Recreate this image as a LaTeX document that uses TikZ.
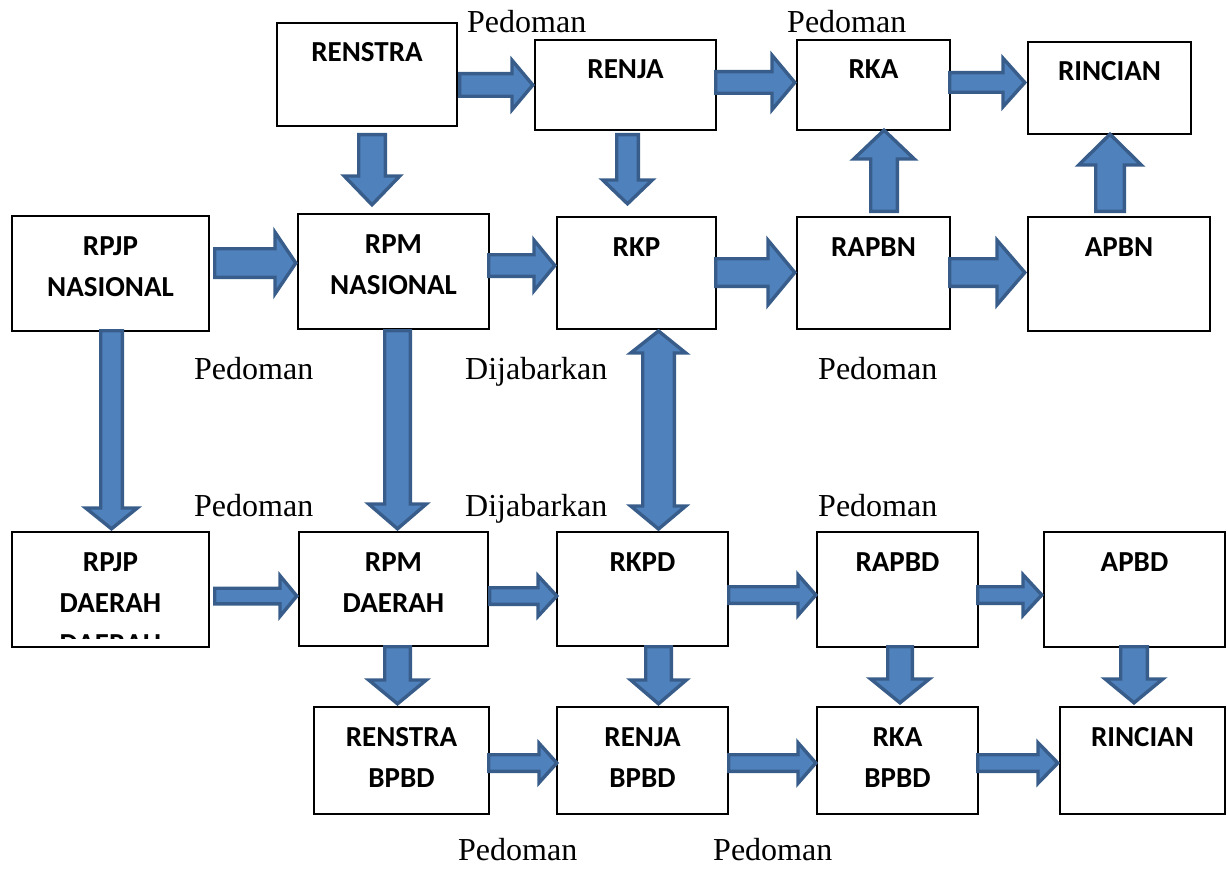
\documentclass[tikz,border=0pt]{standalone}
\usepackage{fontspec}
\setmainfont{Liberation Serif}
\newfontfamily\boxfont{Carlito}
\definecolor{arrfill}{HTML}{4F81BD}
\definecolor{arrline}{HTML}{385D8A}
\tikzset{
 box/.style={draw=black, line width=1.3pt, fill=white, inner sep=0pt, outer sep=0pt, anchor=north west},
 boxtxt/.style={anchor=base, inner sep=0pt, font=\boxfont\bfseries\fontsize{29}{41}\selectfont},
 lab/.style={anchor=base west, inner sep=0pt, font=\fontsize{32}{38}\selectfont},
 barrow/.style={fill=arrfill, draw=arrline, line width=3.4pt, line join=miter},
}
\newcommand\boxlines[1]{\vtop{\baselineskip=41pt\halign{\hfil##\hfil\cr#1\crcr}}}
% name, x1, y1, x2, y2, text
\newcommand\bx[6]{%
 \node[box, minimum width={#4pt-#2pt}, minimum height={#5pt-#3pt}] (#1) at (#2,#3) {};
 \node[boxtxt] (#1-t) at ({(#2+#4)/2},{#3+39}) {\boxlines{#6}};
}
% yc, xs, xbase, xtip, shaft half, head half
\newcommand\harr[6]{%
 \draw[barrow] ({#2+1.7*sign(#4-#2)},{#1-#5+1.7}) -- (#3,{#1-#5+1.7}) -- (#3,{#1-#6+1.7})
   -- ({#4-2.2*sign(#4-#2)},#1) -- (#3,{#1+#6-1.7}) -- (#3,{#1+#5-1.7}) -- ({#2+1.7*sign(#4-#2)},{#1+#5-1.7}) -- cycle;}
% xc, ys, ybase, ytip, shaft half, head half
\newcommand\varr[6]{%
 \draw[barrow] ({#1-#5+1.7},{#2+1.7*sign(#4-#2)}) -- ({#1-#5+1.7},#3) -- ({#1-#6+1.7},#3)
   -- (#1,{#4-2.2*sign(#4-#2)}) -- ({#1+#6-1.7},#3) -- ({#1+#5-1.7},#3) -- ({#1+#5-1.7},{#2+1.7*sign(#4-#2)}) -- cycle;}
\begin{document}
\begin{tikzpicture}[x=1pt, y=-1pt]
\useasboundingbox (0,0) rectangle (1228,869);
% boxes
\bx{renstra}{277}{23}{457}{126}{RENSTRA}
\bx{renja}{535}{40}{716}{130}{RENJA}
\bx{rka}{797}{40}{950}{130}{RKA}
\bx{rincian}{1028}{42}{1191}{134}{RINCIAN}
\bx{rpjpn}{12}{216}{209}{331}{RPJP\cr NASIONAL}
\bx{rpmn}{298}{214}{489}{329}{RPM\cr NASIONAL}
\bx{rkp}{557}{217}{716}{329}{RKP}
\bx{rapbn}{797}{217}{950}{329}{RAPBN}
\bx{apbn}{1028}{217}{1210}{331}{APBN}
\bx{rpjpd}{12}{532}{209}{647}{RPJP\cr DAERAH}
\begin{scope}
 \clip (12,532) rectangle (209,638.5);
 \node[boxtxt] (rpjpd-t3) at (110.5,653) {DAERAH};
\end{scope}
\bx{rpmd}{299}{532}{488}{646}{RPM\cr DAERAH}
\bx{rkpd}{557}{532}{728}{646}{RKPD}
\bx{rapbd}{817}{532}{978}{647}{RAPBD}
\bx{apbd}{1044}{532}{1225}{647}{APBD}
\bx{renstrab}{314}{707}{489}{814}{RENSTRA\cr BPBD}
\bx{renjab}{557}{707}{728}{814}{RENJA\cr BPBD}
\bx{rkab}{817}{707}{978}{814}{RKA\cr BPBD}
\bx{rincianb}{1060}{707}{1225}{814}{RINCIAN}
% horizontal arrows
\harr{85}{458}{512}{535}{13}{26.5}
\harr{82.5}{714}{772}{797}{12.5}{29}
\harr{82.5}{948}{1003}{1027}{11.5}{26}
\harr{263}{213}{275}{298}{16}{32.5}
\harr{265.5}{487}{534}{557}{12.5}{27}
\harr{272.5}{714}{768}{797}{15.5}{34}
\harr{272.5}{948}{997}{1027}{15.5}{34}
\harr{596}{213}{280}{299}{9.5}{22}
\harr{596}{488}{538}{559}{10}{22}
\harr{595}{727}{798}{818}{10}{22}
\harr{595}{976}{1023}{1044}{10}{22}
\harr{763}{487}{539}{559}{10}{21.5}
\harr{763}{727}{798}{818}{10}{22}
\harr{763}{976}{1038}{1060}{10}{22}
% vertical arrows
\varr{372}{133}{176}{207}{15}{29.5}
\varr{627.5}{133}{180}{206}{12.5}{26.5}
\varr{111.5}{329}{508}{531}{12.5}{27.5}
\varr{397.5}{329}{504}{531}{14.5}{30.5}
\varr{884}{213}{159}{128}{15}{32}
\varr{1110}{213}{165}{132}{16}{33}
\varr{397.5}{645}{680}{706}{14.5}{30.5}
\varr{658.5}{645}{680}{706}{14.5}{29.5}
\varr{900}{645}{679}{705}{14}{31}
\varr{1134}{645}{679}{705}{15}{30.5}
% double arrow RKP <-> RKPD
\draw[barrow] (658.5,331) -- (687.5-1.7,353) -- (676-1.7,353) -- (676-1.7,506) -- (687.5-1.7,506)
  -- (658.5,529) -- (629+1.7,506) -- (641+1.7,506) -- (641+1.7,353) -- (629+1.7,353) -- cycle;
% labels
\node[lab] (l1) at (467,33) {Pedoman};
\node[lab] (l2) at (787,33) {Pedoman};
\node[lab] (l3) at (194,379) {Pedoman};
\node[lab] (l4) at (465,379) {Dijabarkan};
\node[lab] (l5) at (818,379) {Pedoman};
\node[lab] (l6) at (194,516) {Pedoman};
\node[lab] (l7) at (465,516) {Dijabarkan};
\node[lab] (l8) at (818,516) {Pedoman};
\node[lab] (l9) at (458,860) {Pedoman};
\node[lab] (l10) at (713,860) {Pedoman};
\end{tikzpicture}
\end{document}
